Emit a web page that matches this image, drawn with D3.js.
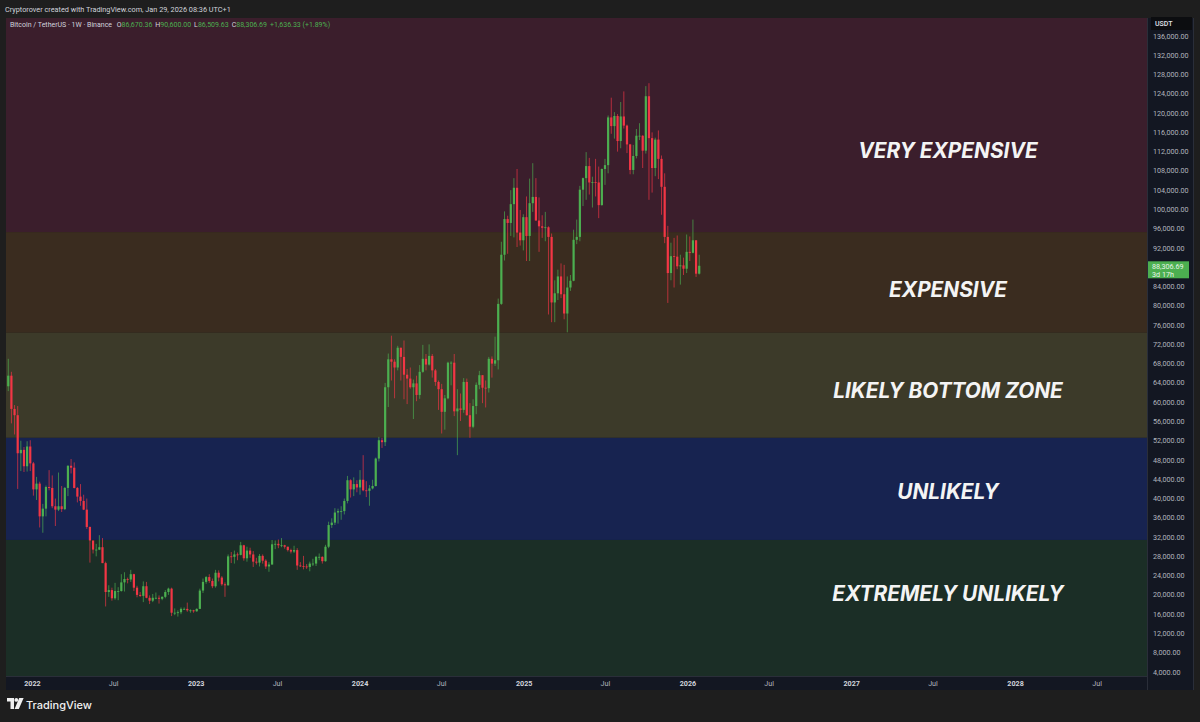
<!DOCTYPE html>
<html><head><meta charset="utf-8">
<script src="https://cdn.jsdelivr.net/npm/d3@7"></script>
<style>
html,body{margin:0;padding:0;background:#1e1e1e;}
svg{display:block;}
</style></head><body>
<svg id="c" width="1200" height="722"></svg>
<script>
// ---------------- DATA (BTC/USDT weekly, values in thousands USDT) ----------------
const startDate = Date.UTC(2021, 10, 8); // first weekly bar (Monday)
const firstOpen = 63.3;
const closes = [
65.5,58.6,57.3,49.4,50.1,46.7,50.8,47.3,
41.9,43.1,36.3,37.9,42.4,42.2,38.4,37.7,38.4,37.8,42.2,46.8,46.4,42.2,40.4,39.5,37.7,34.1,31.3,29.4,29.4,29.9,26.6,20.6,21.0,19.3,20.8,20.8,22.6,23.3,23.2,24.3,21.5,20.0,19.8,21.8,19.4,18.8,19.4,19.4,19.2,19.6,20.6,21.3,16.3,16.3,16.4,17.1,17.1,16.8,16.8,16.6,
17.1,20.9,22.7,23.7,22.9,21.8,24.6,23.6,22.2,22.0,28.0,27.9,28.4,28.3,30.3,27.6,29.2,28.4,26.9,26.7,28.1,27.1,25.9,26.3,30.5,30.6,30.3,30.3,30.0,29.3,29.0,29.3,26.1,26.0,25.9,25.8,26.5,26.5,27.9,27.9,27.0,30.0,34.5,35.0,37.1,37.4,37.4,39.5,43.8,41.9,43.0,42.3,
43.9,41.7,41.6,42.1,42.6,48.3,52.1,51.7,63.1,68.9,68.4,67.2,71.3,69.4,65.7,64.9,63.1,63.9,61.5,66.3,69.0,67.8,69.6,66.6,64.2,62.7,58.0,60.8,68.2,68.2,58.1,58.7,58.4,64.2,57.3,54.9,59.2,63.6,65.6,63.0,62.9,69.0,68.0,68.7,80.4,90.6,98.0,97.2,101.1,104.5,95.2,93.6,98.4,
94.5,101.3,102.6,97.7,96.5,96.2,96.3,94.3,80.7,82.6,86.1,82.4,78.4,83.8,85.2,93.7,94.3,104.1,106.5,109.0,105.6,105.7,105.6,100.9,108.4,109.2,119.1,117.3,119.4,114.2,119.3,117.4,113.5,108.2,111.1,115.3,115.3,112.2,123.5,114.8,108.6,114.5,110.5,104.7,94.3,86.8,90.3,90.2,88.2,88.4,87.7,91.2,
91.0,93.6,86.67,88.31
];
const highs = [
69.0,66.3,59.4,59.2,52.0,50.7,51.9,52.1,
47.6,44.5,43.5,38.9,42.7,45.9,44.8,40.0,45.4,42.6,42.4,46.9,48.2,47.5,42.4,43.0,40.8,40.0,34.2,31.0,30.6,32.4,31.8,26.9,22.0,21.5,22.5,21.6,24.3,24.7,23.6,25.2,24.4,21.9,20.6,22.8,22.7,19.9,20.2,20.5,19.9,19.7,21.0,21.5,21.5,17.2,16.8,17.4,17.4,18.4,17.0,16.9,
17.2,21.3,23.4,23.9,24.3,23.4,25.2,25.1,23.9,22.6,28.4,28.9,29.2,28.8,31.0,30.4,30.0,29.8,29.1,27.7,28.5,28.4,27.4,26.8,31.4,31.3,31.5,31.8,30.4,30.0,29.6,30.2,29.7,26.8,28.1,26.4,26.9,27.5,28.1,28.6,28.0,30.4,35.2,35.9,38.0,37.9,38.4,40.0,44.7,44.0,44.4,43.8,
45.9,49.0,43.6,42.8,43.9,48.5,52.8,52.6,64.0,70.1,73.8,68.9,71.7,71.3,72.8,66.9,67.2,64.7,65.5,67.7,71.9,70.0,72.0,70.0,66.9,64.5,63.8,61.5,68.4,68.5,70.0,62.7,61.8,65.0,64.9,59.8,60.6,64.1,66.5,65.6,64.5,69.4,69.5,73.6,81.5,93.3,99.6,98.7,104.0,106.5,108.4,99.9,99.0,
102.7,106.4,109.6,106.5,102.5,98.8,99.5,96.5,95.0,85.3,87.5,88.8,88.5,86.1,86.4,95.8,97.9,104.9,106.6,111.9,110.7,106.8,110.5,108.9,108.5,110.5,119.5,123.2,120.2,119.8,122.3,124.5,117.6,113.6,113.4,116.7,117.9,115.4,125.6,126.2,116.0,114.9,116.4,111.2,107.5,96.6,93.1,94.1,94.6,90.6,90.0,94.8,
94.4,97.9,93.6,90.6
];
const lows = [
62.3,55.6,53.3,42.0,45.7,45.5,45.6,45.7,
40.6,39.7,34.0,32.9,36.3,41.7,38.0,34.3,37.4,37.2,37.6,40.5,45.2,42.1,39.2,38.5,37.6,33.7,26.7,28.6,28.0,29.3,26.6,17.6,19.6,18.8,19.0,18.9,20.7,20.7,22.4,22.7,20.8,19.5,19.6,18.5,19.3,18.1,18.5,19.1,18.2,18.9,19.3,20.0,15.6,15.8,15.5,16.0,16.9,16.5,16.3,16.3,
16.5,17.1,20.4,22.3,22.5,21.4,21.5,22.8,21.9,19.6,21.9,26.6,26.5,27.2,28.2,27.1,26.9,27.7,25.8,26.3,25.9,26.5,25.4,24.8,26.3,29.5,29.7,29.9,29.6,29.0,28.6,28.7,25.2,25.8,25.3,25.4,24.9,26.0,26.0,27.2,26.5,26.9,29.7,33.9,34.5,34.8,35.6,36.7,39.0,40.2,40.5,41.3,
40.8,41.5,40.3,38.5,41.9,42.5,47.7,50.5,50.9,59.0,64.5,60.8,66.6,64.5,60.6,59.6,62.8,56.5,60.2,60.7,66.1,66.6,67.6,65.1,63.4,58.4,53.5,54.3,60.6,63.5,57.1,49.0,56.1,57.8,57.2,52.6,54.6,57.5,62.7,59.8,58.9,62.0,65.1,67.5,66.8,80.2,89.4,90.8,94.5,94.2,92.2,92.5,91.5,
89.3,89.3,99.5,97.7,91.2,94.1,93.4,78.2,76.6,76.6,81.2,81.6,77.2,74.5,83.1,85.1,92.8,93.4,100.7,102.0,103.1,100.4,102.7,98.2,100.8,105.1,107.5,115.7,114.7,112.0,112.7,116.8,111.7,107.3,107.3,110.6,114.4,108.6,111.6,102.0,103.5,106.9,106.3,98.9,93.0,80.6,85.3,83.8,87.6,84.4,86.4,86.8,
89.3,90.9,86.0,86.5
];
const priceTicks = [4,8,12,16,20,24,28,32,36,40,44,48,52,56,60,64,68,72,76,80,84,88,92,96,100,104,108,112,116,120,124,128,132,136];
const timeTicks = [
  {d:"2022-01-01",t:"2022"},{d:"2022-07-01",t:"Jul"},{d:"2023-01-01",t:"2023"},{d:"2023-07-01",t:"Jul"},
  {d:"2024-01-01",t:"2024"},{d:"2024-07-01",t:"Jul"},{d:"2025-01-01",t:"2025"},{d:"2025-07-01",t:"Jul"},
  {d:"2026-01-01",t:"2026"},{d:"2026-07-01",t:"Jul"},{d:"2027-01-01",t:"2027"},{d:"2027-07-01",t:"Jul"},
  {d:"2028-01-01",t:"2028"},{d:"2028-07-01",t:"Jul"}
];
const zoneNames = ["VERY EXPENSIVE","EXPENSIVE","LIKELY BOTTOM ZONE","UNLIKELY","EXTREMELY UNLIKELY"];
const zoneTops = [140, 95.3, 74.4, 52.6, 31.4];
const zoneBottoms = [95.3, 74.4, 52.6, 31.4, 0];
const zoneColors = ["#3b1e2c","#3a2c1f","#3c3a29","#172350","#1b2e26"];
const zoneLabelAt = [112.2, 83.4, 62.5, 41.5, 20.2];
const lastPrice = 88.30669;
const legend = {sym:"Bitcoin / TetherUS · 1W · Binance", O:"86,670.36", H:"90,600.00", L:"86,509.63", C:"88,306.69", chg:"+1,636.33 (+1.89%)"};

// ---------------- LAYOUT ----------------
const svg = d3.select("#c");
const W = 1200, H = 722;
const L = 6, R = 1147, T = 18, B = 676;
const up = "#4caf50", down = "#f23645";
const axisBg = "#131722";

const y = d3.scaleLinear().domain([4, 136]).range([672, 36]);
const x = d3.scaleUtc().domain([Date.UTC(2022,0,1), Date.UTC(2026,0,1)]).range([32.5, 688]);

svg.append("rect").attr("width", W).attr("height", H).attr("fill", "#1e1e1e");

const defs = svg.append("defs");
defs.append("clipPath").attr("id","clip").append("rect").attr("x",L).attr("y",T).attr("width",R-L).attr("height",B-T);

const chart = svg.append("g").attr("clip-path","url(#clip)");
// zones
zoneNames.forEach((n,i)=>{
  const y0 = Math.max(T, y(zoneTops[i])), y1 = Math.min(B, y(zoneBottoms[i]));
  chart.append("rect").attr("x",L).attr("y",y0).attr("width",R-L).attr("height",y1-y0).attr("fill",zoneColors[i]);
});

// candles
const week = 7*24*3600*1000;
const bars = closes.map((c,i)=>({t:startDate+i*week, o: i===0?firstOpen:closes[i-1], h:highs[i], l:lows[i], c}));
const bw = 2.2;
const cg = chart.append("g");
cg.selectAll("line.w").data(bars).join("line")
  .attr("x1",d=>x(d.t)).attr("x2",d=>x(d.t))
  .attr("y1",d=>y(d.h)).attr("y2",d=>y(d.l))
  .attr("stroke",d=>d.c>=d.o?up:down).attr("stroke-width",0.8).attr("stroke-opacity",0.85);
cg.selectAll("rect.b").data(bars).join("rect")
  .attr("x",d=>x(d.t)-bw/2).attr("width",bw)
  .attr("y",d=>y(Math.max(d.o,d.c)))
  .attr("height",d=>Math.max(0.8, Math.abs(y(d.o)-y(d.c))))
  .attr("fill",d=>d.c>=d.o?up:down);

// zone labels
zoneNames.forEach((n,i)=>{
  svg.append("text").attr("x",948).attr("y",y(zoneLabelAt[i]))
    .attr("text-anchor","middle").attr("dominant-baseline","central")
    .attr("font-family","Inter, 'Open Sans', sans-serif").attr("font-weight",700)
    .attr("font-style","italic").attr("font-size",20.8).attr("fill","#f4f4f4").text(n);
});

// header
svg.append("text").attr("x",5).attr("y",11.8).attr("font-family","Roboto, 'Noto Sans', sans-serif")
  .attr("font-size",7.3).attr("fill","#d1d4dc").text("Cryptorover created with TradingView.com, Jan 29, 2026 08:36 UTC+1");
const lg = svg.append("text").attr("x",10).attr("y",26.8).attr("font-family","Roboto, 'Noto Sans', sans-serif")
  .attr("font-size",7).attr("fill","#d1d4dc");
lg.append("tspan").text(legend.sym+"  ");
[["O",legend.O],["H",legend.H],["L",legend.L],["C",legend.C]].forEach(([k,v])=>{
  lg.append("tspan").attr("dx",3).text(k);
  lg.append("tspan").attr("fill",up).text(v);
});
lg.append("tspan").attr("dx",3).attr("fill",up).text(legend.chg);

// time axis
svg.append("rect").attr("x",L).attr("y",B).attr("width",R-L+1).attr("height",14).attr("fill",axisBg);
svg.append("line").attr("x1",L).attr("x2",1193).attr("y1",B+0.5).attr("y2",B+0.5).attr("stroke","#2a2e39");
svg.append("g").selectAll("text").data(timeTicks).join("text")
  .attr("x",d=>x(Date.parse(d.d))).attr("y",686)
  .attr("text-anchor","middle").attr("font-family","Roboto, 'Noto Sans', sans-serif")
  .attr("font-size",7.2).attr("font-weight",d=>d.t==="Jul"?400:700)
  .attr("fill",d=>d.t==="Jul"?"#b2b5be":"#d1d4dc").text(d=>d.t);

// price axis
svg.append("rect").attr("x",R+1).attr("y",T).attr("width",45).attr("height",B-T+14).attr("fill",axisBg);
svg.append("line").attr("x1",R+0.5).attr("x2",R+0.5).attr("y1",T).attr("y2",B+14).attr("stroke","#2a2e39");
svg.append("line").attr("x1",1193.5).attr("x2",1193.5).attr("y1",T).attr("y2",B+14).attr("stroke","#2a2e39");
const fmt = d3.format(",.2f");
svg.append("g").selectAll("text").data(priceTicks).join("text")
  .attr("x",1153).attr("y",d=>y(d)).attr("dominant-baseline","central")
  .attr("font-family","Roboto, 'Noto Sans', sans-serif").attr("font-size",7.2)
  .attr("fill","#b2b5be").text(d=>fmt(d*1000));
svg.append("rect").attr("x",1151).attr("y",T-1).attr("width",41).attr("height",13).attr("fill","#0c0d10");
svg.append("text").attr("x",1155).attr("y",T+6).attr("dominant-baseline","central")
  .attr("font-family","Roboto, 'Noto Sans', sans-serif").attr("font-size",7).attr("font-weight",500)
  .attr("fill","#e0e3eb").text("USDT");
// last price tag
const ly = y(lastPrice);
svg.append("rect").attr("x",R+1).attr("y",ly-4.5).attr("width",41).attr("height",17).attr("fill",up);
svg.append("text").attr("x",1152).attr("y",ly+0.5).attr("dominant-baseline","central")
  .attr("font-family","Roboto, 'Noto Sans', sans-serif").attr("font-size",7.2).attr("fill","#e8f5e9").text(fmt(lastPrice*1000));
svg.append("text").attr("x",1152).attr("y",ly+8.5).attr("dominant-baseline","central")
  .attr("font-family","Roboto, 'Noto Sans', sans-serif").attr("font-size",7.2).attr("fill","#e8f5e9").text("3d 17h");

// TradingView logo
const logo = svg.append("g").attr("transform","translate(7,698)");
logo.append("path").attr("d","M0 0 H7 V11 H3.5 V3.6 H0 Z").attr("fill","#f0f0f0");
logo.append("circle").attr("cx",9.3).attr("cy",1.9).attr("r",1.9).attr("fill","#f0f0f0");
logo.append("path").attr("d","M12.2 0 H16.6 L11.8 11 H7.6 Z").attr("fill","#f0f0f0");
svg.append("text").attr("x",26).attr("y",708.5).attr("font-family","Inter, 'Open Sans', sans-serif")
  .attr("font-size",11).attr("font-weight",500).attr("fill","#f0f0f0").text("TradingView");
</script>
</body></html>
